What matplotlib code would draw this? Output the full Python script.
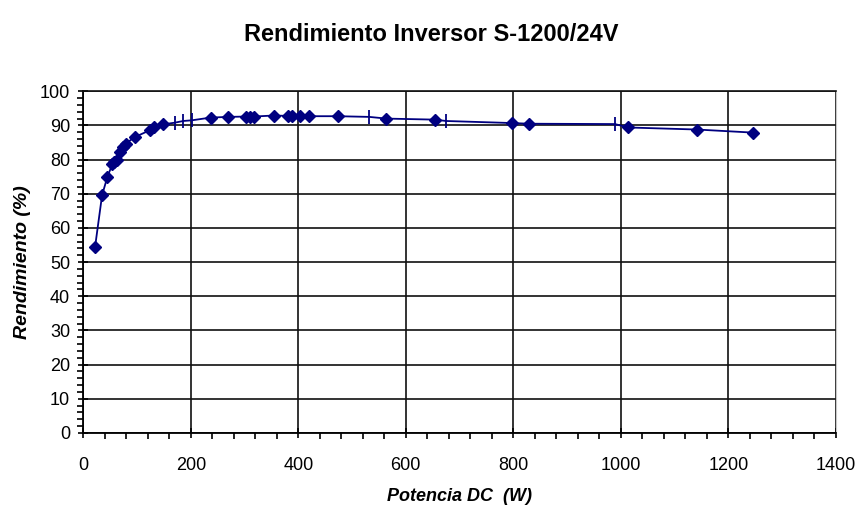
import matplotlib.pyplot as plt
from matplotlib.ticker import MultipleLocator

# Data: points drawn with diamonds
pot_diamond = [22, 35, 45, 54, 58, 62, 69, 74, 79, 96, 124, 132, 148,
               237, 270, 303, 310, 317, 354, 380, 388, 403, 420, 473,
               564, 654, 797, 830, 1014, 1142, 1246]
rend_diamond = [54.5, 69.6, 75.0, 78.6, 79.3, 80.0, 82.3, 83.7, 84.7, 86.6, 88.6, 89.4, 90.3,
                92.3, 92.5, 92.6, 92.6, 92.6, 92.9, 92.8, 92.8, 92.8, 92.7, 92.7,
                92.0, 91.7, 90.7, 90.5, 89.4, 88.8, 87.9]

# points drawn with a plain tick mark
pot_tick = [170, 186, 202, 532, 675, 989]
rend_tick = [90.8, 91.3, 91.5, 92.5, 91.3, 90.4]

# line goes through every point in order of power
pts = sorted(zip(pot_diamond + pot_tick, rend_diamond + rend_tick))
pot_all = [p for p, r in pts]
rend_all = [r for p, r in pts]

plt.rcParams['font.family'] = ['Liberation Sans', 'DejaVu Sans']

fig = plt.figure(figsize=(8.62, 5.07), dpi=100)
ax = fig.add_axes([0.0966, 0.146, 0.873, 0.674])

navy = "#000080"
ax.plot(pot_all, rend_all, color=navy, linewidth=1.3, zorder=3)
ax.plot(pot_diamond, rend_diamond, linestyle="none", marker="D", markersize=6.5,
        color=navy, zorder=4)
ax.plot(pot_tick, rend_tick, linestyle="none", marker="|", markersize=10,
        markeredgewidth=1.3, color=navy, zorder=4)

ax.set_xlim(0, 1400)
ax.set_ylim(0, 100)
ax.xaxis.set_major_locator(MultipleLocator(200))
ax.xaxis.set_minor_locator(MultipleLocator(40))
ax.yaxis.set_major_locator(MultipleLocator(10))
ax.yaxis.set_minor_locator(MultipleLocator(2))

ax.grid(True, which="major", color="#111111", linewidth=1.2)
ax.xaxis.get_gridlines()[-1].set_visible(False)
ax.xaxis.get_gridlines()[0].set_visible(False)
ax.yaxis.get_gridlines()[0].set_visible(False)

ax.tick_params(which="major", direction="inout", length=7, width=1.2, labelsize=13, pad=6)
ax.tick_params(axis="x", which="major", pad=14)
ax.tick_params(which="minor", direction="out", length=4, width=1.2)

for side in ["left", "bottom"]:
    ax.spines[side].set_color("black")
    ax.spines[side].set_linewidth(1.3)
ax.spines["right"].set_color("#c8c8c8")
ax.spines["top"].set_color("#111111")
ax.spines["top"].set_linewidth(1.2)

ax.set_xlabel("Potencia DC  (W)", fontsize=13, fontweight="bold", style="italic", labelpad=10)
ax.set_ylabel("Rendimiento (%)", fontsize=14, fontweight="bold", style="italic", labelpad=6)
fig.suptitle("Rendimiento Inversor S-1200/24V", fontsize=17, fontweight="bold", y=0.955)

fig.savefig("out.png", dpi=100, facecolor="white")
